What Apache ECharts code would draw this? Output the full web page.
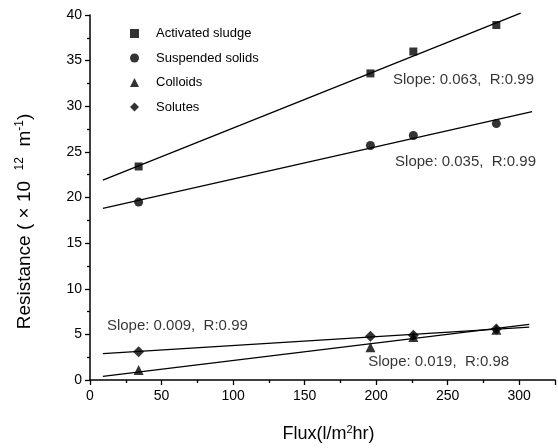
<!DOCTYPE html>
<html>
<head>
<meta charset="utf-8">
<script src="https://cdn.jsdelivr.net/npm/echarts@6/dist/echarts.min.js"></script>
<style>
  html, body { margin: 0; padding: 0; background: #fff; }
  #chart { width: 558px; height: 448px; }
</style>
</head>
<body>
<div id="chart"></div>
<script>
// flux values (l/m2hr)
const flux = [34, 196, 226, 284];

// resistance (x 10^12 m^-1)
const activatedSludge = [23.4, 33.6, 36.0, 38.9];
const suspendedSolids = [19.5, 25.7, 26.8, 28.1];
const colloids = [1.1, 3.6, 4.7, 5.5];
const solutes = [3.1, 4.8, 4.9, 5.6];

// fitted lines, end points
const fitActivated = [[9, 21.9], [301, 40.2]];
const fitSuspended = [[9, 18.8], [309, 29.4]];
const fitColloids = [[9, 0.4], [307, 6.1]];
const fitSolutes = [[9, 2.9], [307, 5.8]];

// slope notes: [x, y, text]
const notes = [
    [211.8, 32.9, 'Slope: 0.063,  R:0.99'],
    [213.2, 23.9, 'Slope: 0.035,  R:0.99'],
    [11.8, 5.9, 'Slope: 0.009,  R:0.99'],
    [194.4, 2.0, 'Slope: 0.019,  R:0.98']
];

const xTicks = [0, 50, 100, 150, 200, 250, 300];

const FONT = '"Liberation Sans", Arial, sans-serif';

function pairs(xs, ys) {
    return xs.map((x, i) => [x, ys[i]]);
}

function fitLine(name, data) {
    return {
        name: name,
        type: 'line',
        data: data,
        symbol: 'none',
        clip: false,
        silent: true,
        lineStyle: {color: '#000', width: 1.3},
        z: 1
    };
}

function points(name, ys, symbol, size) {
    return {
        name: name,
        type: 'scatter',
        data: pairs(flux, ys),
        symbol: symbol,
        symbolSize: size,
        itemStyle: {color: '#000'},
        z: 3
    };
}

let chart = echarts.init(document.getElementById('chart'), null, {renderer: 'canvas'});

chart.setOption({
    animation: false,
    backgroundColor: '#fff',
    grid: {left: 90, right: 0, top: 15, bottom: 67},
    legend: {
        orient: 'vertical',
        left: 125,
        top: 22,
        itemWidth: 9,
        itemHeight: 9,
        itemGap: 11.5,
        data: ['Activated sludge', 'Suspended solids', 'Colloids', 'Solutes'],
        textStyle: {fontFamily: FONT, fontSize: 13, color: '#000', padding: [0, 0, 0, 12]}
    },
    xAxis: {
        type: 'value',
        min: 0,
        max: 325,
        interval: 50,
        name: 'Flux(l/m{sup|2}hr)',
        nameLocation: 'middle',
        nameGap: 44,
        nameTextStyle: {
            fontFamily: FONT, fontSize: 18, color: '#000', padding: [0, 0, 0, 12],
            rich: {sup: {fontFamily: FONT, fontSize: 11, color: '#000', padding: [0, 0, 9, 0]}}
        },
        splitLine: {show: false},
        axisLine: {lineStyle: {color: '#000', width: 1.5}},
        axisTick: {length: 5, lineStyle: {color: '#000', width: 1.3}},
        minorTick: {show: true, splitNumber: 2, length: 3, lineStyle: {color: '#000', width: 1.3}},
        axisLabel: {
            fontFamily: FONT, fontSize: 14, color: '#000', margin: 9,
            formatter: v => xTicks.indexOf(v) >= 0 ? String(v) : ''
        }
    },
    yAxis: {
        type: 'value',
        min: 0,
        max: 40,
        interval: 5,
        name: 'Resistance ( \u00d7 10  {sup|12}  m{sup|-1})',
        nameLocation: 'middle',
        nameGap: 54,
        nameTextStyle: {
            fontFamily: FONT, fontSize: 19, color: '#000', padding: [0, 48, 0, 0],
            rich: {sup: {fontFamily: FONT, fontSize: 12, color: '#000', padding: [0, 0, 10, 0]}}
        },
        splitLine: {show: false},
        axisLine: {lineStyle: {color: '#000', width: 1.5}},
        axisTick: {length: 5, lineStyle: {color: '#000', width: 1.3}},
        minorTick: {show: true, splitNumber: 2, length: 3, lineStyle: {color: '#000', width: 1.3}},
        axisLabel: {fontFamily: FONT, fontSize: 14, color: '#000', margin: 8}
    },
    series: [
        fitLine('fitA', fitActivated),
        fitLine('fitS', fitSuspended),
        fitLine('fitC', fitColloids),
        fitLine('fitD', fitSolutes),
        points('Activated sludge', activatedSludge, 'rect', 8),
        points('Suspended solids', suspendedSolids, 'circle', 9),
        points('Colloids', colloids, 'triangle', 10),
        points('Solutes', solutes, 'diamond', 11),
        {
            name: 'notes',
            type: 'scatter',
            data: notes,
            symbolSize: 0,
            silent: true,
            label: {
                show: true,
                position: 'right',
                distance: 0,
                formatter: p => p.data[2],
                fontFamily: FONT,
                fontSize: 15,
                color: '#000'
            }
        }
    ]
});
</script>
</body>
</html>
